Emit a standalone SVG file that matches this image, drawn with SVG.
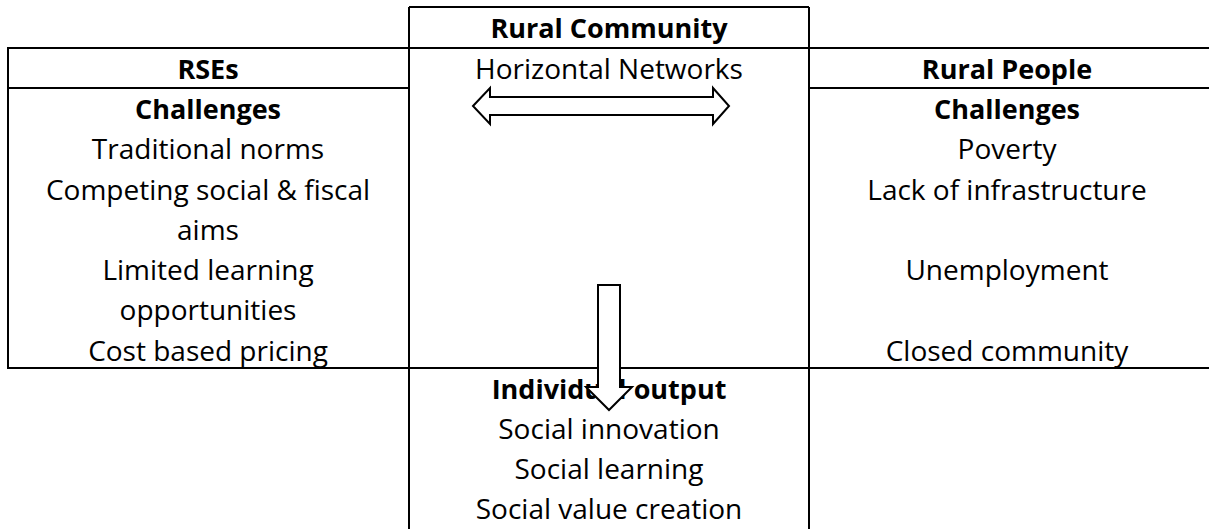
<svg xmlns="http://www.w3.org/2000/svg" width="1209" height="529" viewBox="0 0 1209 529">
<style>
.ln{stroke:#000;stroke-width:2;fill:none}
.t{font-family:"Open Sans","Liberation Sans",sans-serif;font-size:28px;fill:#000;text-anchor:middle}
.b{font-weight:bold;font-size:27px}
.arr{fill:#fff;stroke:#000;stroke-width:2;stroke-linejoin:miter}
</style>
<rect width="1209" height="529" fill="#fff"/>
<g id="grid">
<line class="ln" x1="409" y1="7" x2="809" y2="7"/>
<line class="ln" x1="7" y1="48" x2="1209" y2="48"/>
<line class="ln" x1="7" y1="88" x2="409" y2="88"/>
<line class="ln" x1="809" y1="88" x2="1209" y2="88"/>
<line class="ln" x1="7" y1="368" x2="1209" y2="368"/>
<line class="ln" x1="8" y1="48" x2="8" y2="369"/>
<line class="ln" x1="409" y1="7" x2="409" y2="529"/>
<line class="ln" x1="809" y1="7" x2="809" y2="529"/>
</g>
<g id="rural-community">
<text class="t b" x="609" y="38">Rural Community</text>
<text class="t" x="609" y="79">Horizontal Networks</text>
</g>
<g id="rses">
<text class="t b" x="208" y="79">RSEs</text>
<text class="t b" x="208" y="119">Challenges</text>
<text class="t" x="208" y="159">Traditional norms</text>
<text class="t" x="208" y="200">Competing social &amp; fiscal</text>
<text class="t" x="208" y="240">aims</text>
<text class="t" x="208" y="280">Limited learning</text>
<text class="t" x="208" y="320">opportunities</text>
<text class="t" x="208" y="361">Cost based pricing</text>
</g>
<g id="rural-people">
<text class="t b" x="1007" y="79">Rural People</text>
<text class="t b" x="1007" y="119">Challenges</text>
<text class="t" x="1007" y="159">Poverty</text>
<text class="t" x="1007" y="200">Lack of infrastructure</text>
<text class="t" x="1007" y="280">Unemployment</text>
<text class="t" x="1007" y="361">Closed community</text>
</g>
<g id="individual-output">
<text class="t b" x="609" y="399">Individual output</text>
<text class="t" x="609" y="439">Social innovation</text>
<text class="t" x="609" y="479">Social learning</text>
<text class="t" x="609" y="519">Social value creation</text>
</g>
<g id="connectors">
<polygon class="arr" points="473,106 490,88 490,97 713,97 713,88 729,106 713,124 713,115 490,115 490,124"/>
<polygon class="arr" points="598,285 620,285 620,387 632,387 609,410 586,387 598,387"/>
</g>
</svg>
